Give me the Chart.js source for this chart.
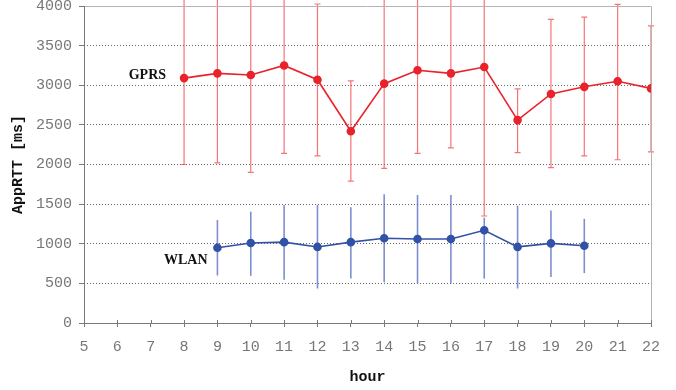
<!DOCTYPE html>
<html>
<head>
<meta charset="utf-8">
<script src="https://cdn.jsdelivr.net/npm/chart.js@4/dist/chart.umd.min.js"></script>
<style>
  body { margin: 0; background: #fff; }
  canvas { display: block; }
</style>
</head>
<body>
<canvas id="rtt" width="676" height="390"></canvas>
<script>
// hours on x, AppRTT in ms on y
const gprsHours = [8, 9, 10, 11, 12, 13, 14, 15, 16, 17, 18, 19, 20, 21, 22];
const gprsMean = [3090, 3150, 3130, 3250, 3070, 2420, 3020, 3190, 3150, 3230, 2560, 2890, 2980, 3050, 2960];
const gprsLow = [2000, 2020, 1900, 2140, 2110, 1790, 1950, 2140, 2210, 1350, 2150, 1960, 2110, 2060, 2160];
const gprsHigh = [4300, 4300, 4300, 4300, 4025, 3055, 4300, 4300, 4300, 4300, 2955, 3830, 3860, 4020, 3750];

const wlanHours = [9, 10, 11, 12, 13, 14, 15, 16, 17, 18, 19, 20];
const wlanMean = [950, 1010, 1020, 960, 1020, 1070, 1060, 1060, 1170, 960, 1005, 975];
const wlanLow = [600, 595, 545, 435, 560, 515, 500, 500, 560, 435, 580, 630];
const wlanHigh = [1300, 1405, 1490, 1490, 1460, 1625, 1615, 1615, 1330, 1480, 1420, 1315];

// text labels placed in data coordinates
const seriesLabels = [
  { text: 'GPRS', x: 6.9, y: 3130 },
  { text: 'WLAN', x: 8.05, y: 795 }
];

const RED = '#e8232b';
const BLUE = '#3152a6';
const monoFont = '"Courier New", "Liberation Mono", monospace';

const toPoints = (xs, ys) => xs.map((x, i) => ({ x: x, y: ys[i] }));

// error bars drawn under the lines
const errorBars = {
  id: 'errorBars',
  beforeDatasetsDraw(chart) {
    const { ctx, scales: { x, y } } = chart;
    const sets = [
      { hours: gprsHours, low: gprsLow, high: gprsHigh, color: 'rgba(240,70,75,0.75)', width: 1.2, cap: 3 },
      { hours: wlanHours, low: wlanLow, high: wlanHigh, color: 'rgba(70,95,185,0.7)', width: 1.6, cap: 0 }
    ];
    ctx.save();
    sets.forEach(s => {
      ctx.strokeStyle = s.color;
      ctx.lineWidth = s.width;
      s.hours.forEach((h, i) => {
        const px = x.getPixelForValue(h);
        const y1 = y.getPixelForValue(s.low[i]);
        const y2 = y.getPixelForValue(s.high[i]);
        ctx.beginPath();
        ctx.moveTo(px, y1);
        ctx.lineTo(px, y2);
        if (s.cap) {
          ctx.moveTo(px - s.cap, y1);
          ctx.lineTo(px + s.cap, y1);
          ctx.moveTo(px - s.cap, y2);
          ctx.lineTo(px + s.cap, y2);
        }
        ctx.stroke();
      });
    });
    ctx.restore();
  }
};

// plot frame, inner x ticks and series names
const frame = {
  id: 'frame',
  beforeDatasetsDraw(chart) {
    const { ctx, chartArea: a, scales: { x } } = chart;
    ctx.save();
    ctx.lineWidth = 1;
    ctx.strokeStyle = '#b4b4b4';
    ctx.beginPath();
    ctx.moveTo(a.left, a.top + 0.5);
    ctx.lineTo(a.right + 0.5, a.top + 0.5);
    ctx.lineTo(a.right + 0.5, a.bottom);
    ctx.stroke();
    ctx.strokeStyle = '#7a7a7a';
    ctx.beginPath();
    ctx.moveTo(a.left + 0.5, a.top);
    ctx.lineTo(a.left + 0.5, a.bottom + 0.5);
    ctx.lineTo(a.right + 0.5, a.bottom + 0.5);
    x.ticks.forEach(t => {
      const px = Math.round(x.getPixelForValue(t.value)) + 0.5;
      ctx.moveTo(px, a.bottom - 3);
      ctx.lineTo(px, a.bottom);
    });
    ctx.stroke();
    ctx.restore();
  },
  afterDraw(chart) {
    const { ctx, scales: { x, y } } = chart;
    ctx.save();
    ctx.font = 'bold 14px "Liberation Serif", serif';
    ctx.fillStyle = '#111';
    ctx.textAlign = 'center';
    ctx.textBaseline = 'middle';
    seriesLabels.forEach(l => {
      ctx.fillText(l.text, x.getPixelForValue(l.x), y.getPixelForValue(l.y));
    });
    ctx.restore();
  }
};

new Chart(document.getElementById('rtt'), {
  type: 'line',
  data: {
    datasets: [
      {
        label: 'GPRS',
        data: toPoints(gprsHours, gprsMean),
        borderColor: RED,
        backgroundColor: RED,
        borderWidth: 1.6,
        pointRadius: 3.5,
        tension: 0
      },
      {
        label: 'WLAN',
        data: toPoints(wlanHours, wlanMean),
        borderColor: BLUE,
        backgroundColor: BLUE,
        borderWidth: 1.6,
        pointRadius: 3.5,
        tension: 0
      }
    ]
  },
  options: {
    responsive: false,
    animation: false,
    devicePixelRatio: 1,
    layout: { padding: { top: 6, right: 25, left: 0, bottom: 0 } },
    plugins: {
      legend: { display: false },
      tooltip: { enabled: false }
    },
    scales: {
      x: {
        type: 'linear',
        min: 5,
        max: 22,
        ticks: { stepSize: 1, color: '#777', padding: 11, maxRotation: 0, font: { family: monoFont, size: 15 } },
        grid: { drawOnChartArea: false, tickLength: 4, tickColor: '#7a7a7a' },
        border: { display: false },
        title: { display: true, text: 'hour', color: '#111', padding: { top: 0, bottom: 4 }, font: { family: monoFont, size: 15, weight: 'bold' } },
        afterFit(scale) { scale.height = 67; }
      },
      y: {
        min: 0,
        max: 4000,
        ticks: {
          stepSize: 500,
          color: '#777',
          padding: 7,
          font: { family: monoFont, size: 15 },
          callback: v => String(v)
        },
        grid: {
          color: ctx => (ctx.tick && (ctx.tick.value === 0 || ctx.tick.value === 4000)) ? 'rgba(0,0,0,0)' : '#666',
          tickLength: 5,
          tickColor: '#7a7a7a',
          tickBorderDash: [1, 0]
        },
        border: { display: false, dash: [1, 2] },
        title: { display: true, text: 'AppRTT [ms]', color: '#111', padding: { top: 9, bottom: 0 }, font: { family: monoFont, size: 15, weight: 'bold' } },
        afterFit(scale) {
          scale.width = 84;
          scale.paddingTop = 0;
          scale.paddingBottom = 0;
        }
      }
    }
  },
  plugins: [errorBars, frame]
});
</script>
</body>
</html>
